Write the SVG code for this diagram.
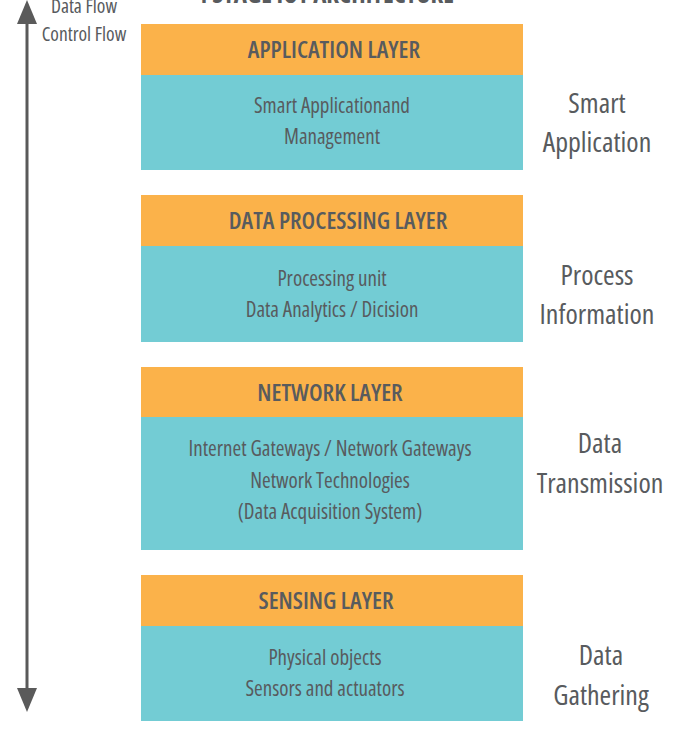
<svg xmlns="http://www.w3.org/2000/svg" width="673" height="743" viewBox="0 0 673 743">
<defs>
<style>
text{font-family:"Open Sans","Liberation Sans",sans-serif;font-stretch:condensed;fill:#585b5e;text-anchor:middle}
.hdr{fill:#FBB24A}
.body{fill:#73CCD4}
.h{font-size:24px;font-weight:600}
.b{font-size:21px}
.r{font-size:28px}
.l{font-size:19.5px}
.t{font-size:25px;font-weight:700}
</style>
<marker id="ah" viewBox="0 0 24 20" refX="12" refY="10" markerWidth="24" markerHeight="20" markerUnits="userSpaceOnUse" orient="auto-start-reverse">
<path d="M0,0 L24,10 L0,20 Z" fill="#5a5a5a"/>
</marker>
</defs>
<rect width="673" height="743" fill="#ffffff"/>
<text class="t" x="325" y="3">4 STAGE IOT ARCHITECTURE</text>
<g id="connectors">
<line x1="27" y1="12" x2="27" y2="700" stroke="#5a5a5a" stroke-width="3" marker-start="url(#ah)" marker-end="url(#ah)"/>
</g>
<g id="flow-label">
<text class="l" x="84" y="13">Data Flow</text>
<text class="l" x="84" y="41">Control Flow</text>
</g>
<g id="application-layer">
<rect class="hdr" x="141" y="24" width="382" height="51"/>
<rect class="body" x="141" y="75" width="382" height="95"/>
<text class="h" x="334" y="58">APPLICATION LAYER</text>
<text class="b" x="332" y="113">Smart Applicationand</text>
<text class="b" x="332" y="144">Management</text>
<text class="r" x="597" y="113">Smart</text>
<text class="r" x="597" y="152">Application</text>
</g>
<g id="data-processing-layer">
<rect class="hdr" x="141" y="195" width="382" height="51"/>
<rect class="body" x="141" y="246" width="382" height="96"/>
<text class="h" x="338" y="229">DATA PROCESSING LAYER</text>
<text class="b" x="332" y="286">Processing unit</text>
<text class="b" x="332" y="317">Data Analytics / Dicision</text>
<text class="r" x="597" y="285">Process</text>
<text class="r" x="597" y="324">Information</text>
</g>
<g id="network-layer">
<rect class="hdr" x="141" y="367" width="382" height="50"/>
<rect class="body" x="141" y="417" width="382" height="133"/>
<text class="h" x="330" y="401">NETWORK LAYER</text>
<text class="b" x="330" y="456">Internet Gateways / Network Gateways</text>
<text class="b" x="330" y="488">Network Technologies</text>
<text class="b" x="330" y="519">(Data Acquisition System)</text>
<text class="r" x="600" y="453">Data</text>
<text class="r" x="600" y="493">Transmission</text>
</g>
<g id="sensing-layer">
<rect class="hdr" x="141" y="575" width="382" height="51"/>
<rect class="body" x="141" y="626" width="382" height="95"/>
<text class="h" x="326" y="609">SENSING LAYER</text>
<text class="b" x="325" y="665">Physical objects</text>
<text class="b" x="325" y="696">Sensors and actuators</text>
<text class="r" x="601" y="665">Data</text>
<text class="r" x="601" y="705">Gathering</text>
</g>
</svg>
